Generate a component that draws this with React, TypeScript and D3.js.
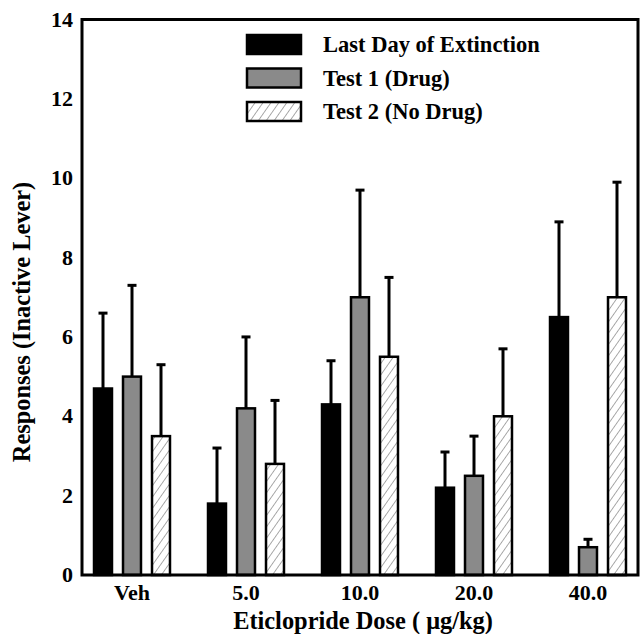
import React from "react";
import * as d3 from "d3";

const categories = ["Veh", "5.0", "10.0", "20.0", "40.0"];
const seriesNames = ["Last Day of Extinction", "Test 1 (Drug)", "Test 2 (No Drug)"];
const lastDayMeans = [4.7, 1.8, 4.3, 2.2, 6.5];
const lastDayTops = [6.6, 3.2, 5.4, 3.1, 8.9];
const test1Means = [5.0, 4.2, 7.0, 2.5, 0.7];
const test1Tops = [7.3, 6.0, 9.7, 3.5, 0.9];
const test2Means = [3.5, 2.8, 5.5, 4.0, 7.0];
const test2Tops = [5.3, 4.4, 7.5, 5.7, 9.9];
const yTicks = [0, 2, 4, 6, 8, 10, 12, 14];

const W = 643;
const H = 634;
const left = 82;
const right = 638;
const top = 19.5;
const bottom = 575;
const FONT = "'Liberation Serif', 'Times New Roman', serif";

export default function App() {
  const x = d3.scalePoint<string>().domain(categories).range([left, right]).padding(0.4386);
  const inner = d3.scaleBand<string>().domain(seriesNames).range([-43.5, 43.5]).paddingInner(0.38).paddingOuter(0.19);
  const y = d3.scaleLinear().domain([0, 14]).range([bottom, top]);

  const means = [lastDayMeans, test1Means, test2Means];
  const tops = [lastDayTops, test1Tops, test2Tops];
  const fills = ["#000", "#8a8a8a", "url(#hatch)"];
  const bw = inner.bandwidth();

  return (
    <svg width={W} height={H} style={{ position: "absolute", left: 0, top: 0, display: "block", background: "#fff" }}>
      <defs>
        <pattern id="hatch" patternUnits="userSpaceOnUse" width="6.5" height="6.5" patternTransform="rotate(35)">
          <rect width="6.5" height="6.5" fill="#fff" />
          <line x1="0" y1="0" x2="0" y2="6.5" stroke="#555" strokeWidth="1" />
        </pattern>
      </defs>
      <rect x={0} y={0} width={W} height={H} fill="#fff" />
      {categories.map((c, i) => (
        <g key={c}>
          {seriesNames.map((s, k) => {
            const bx = (x(c) as number) + (inner(s) as number);
            const cx = bx + bw / 2;
            const yTop = y(tops[k][i]);
            const yMean = y(means[k][i]);
            return (
              <g key={s}>
                <line x1={cx} x2={cx} y1={yMean} y2={yTop} stroke="#000" strokeWidth={3} />
                <line x1={cx - 4.5} x2={cx + 4.5} y1={yTop} y2={yTop} stroke="#000" strokeWidth={3} />
                <rect x={bx} y={yMean} width={bw} height={bottom - yMean} fill={fills[k]} stroke="#000" strokeWidth={2.5} />
              </g>
            );
          })}
        </g>
      ))}
      <path d={`M${left},${bottom}V${top}H${right}V${bottom}Z`} fill="none" stroke="#000" strokeWidth={3} />
      {yTicks.map((t) => (
        <text key={t} x={73} y={y(t) + 7} textAnchor="end" fontFamily={FONT} fontWeight="bold" fontSize={22}>
          {t}
        </text>
      ))}
      {categories.map((c) => (
        <text key={c} x={x(c) as number} y={600} textAnchor="middle" fontFamily={FONT} fontWeight="bold" fontSize={22}>
          {c}
        </text>
      ))}
      <text x={363} y={629} textAnchor="middle" fontFamily={FONT} fontWeight="bold" fontSize={24.4}>
        Eticlopride Dose ( μg/kg)
      </text>
      <text transform="translate(30,322) rotate(-90)" textAnchor="middle" fontFamily={FONT} fontWeight="bold" fontSize={24.4}>
        Responses (Inactive Lever)
      </text>
      {seriesNames.map((s, k) => (
        <g key={s} transform={`translate(247,${35 + k * 33.5})`}>
          <rect x={0} y={0} width={54} height={19} fill={fills[k]} stroke="#000" strokeWidth={2.5} />
          <text x={76} y={17} fontFamily={FONT} fontWeight="bold" fontSize={22.5}>
            {s}
          </text>
        </g>
      ))}
    </svg>
  );
}
